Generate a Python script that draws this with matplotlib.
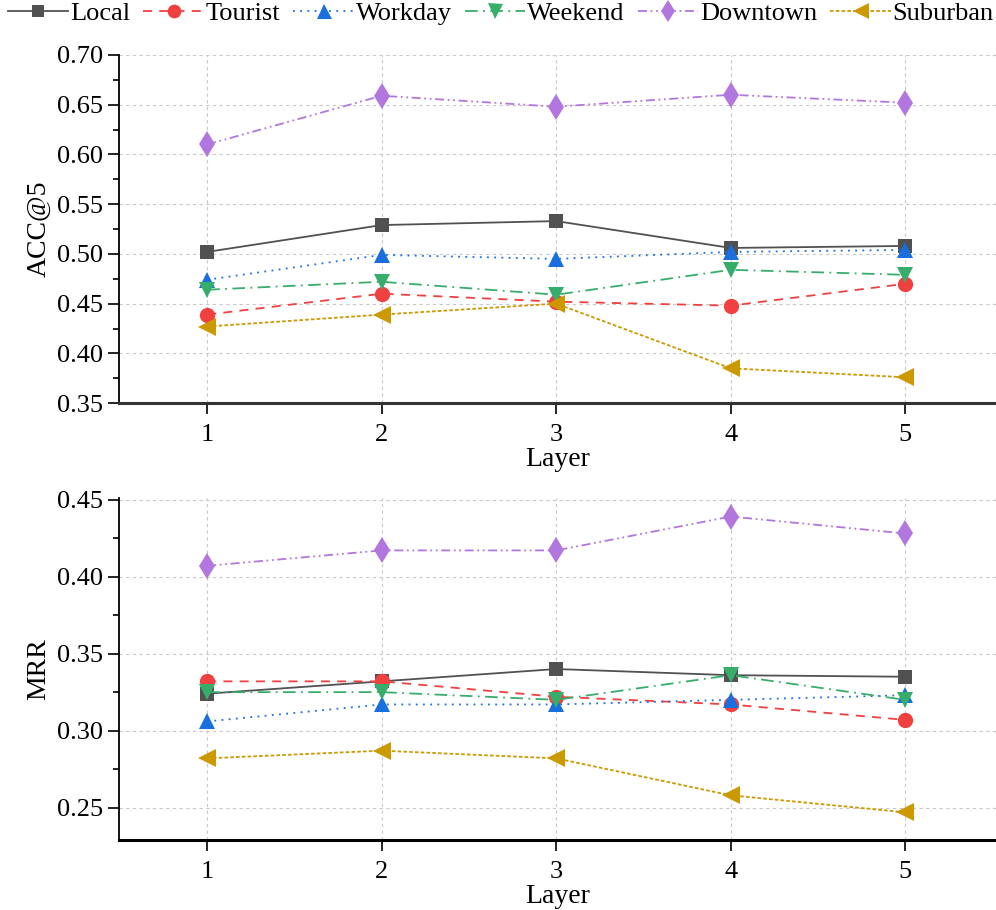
import matplotlib
matplotlib.use('Agg')
import matplotlib.pyplot as plt
from matplotlib.ticker import MultipleLocator

plt.rcParams['font.family'] = ['Liberation Serif', 'DejaVu Serif']
plt.rcParams['mathtext.fontset'] = 'stix'

# data
layers = [1, 2, 3, 4, 5]
names = ['Local', 'Tourist', 'Workday', 'Weekend', 'Downtown', 'Suburban']
acc5 = {
    'Local':    [0.502, 0.529, 0.533, 0.506, 0.508],
    'Tourist':  [0.439, 0.460, 0.452, 0.448, 0.470],
    'Workday':  [0.474, 0.499, 0.495, 0.502, 0.504],
    'Weekend':  [0.464, 0.472, 0.459, 0.484, 0.479],
    'Downtown': [0.610, 0.659, 0.648, 0.660, 0.652],
    'Suburban': [0.427, 0.439, 0.450, 0.385, 0.376],
}
mrr = {
    'Local':    [0.324, 0.332, 0.340, 0.336, 0.335],
    'Tourist':  [0.332, 0.332, 0.322, 0.317, 0.307],
    'Workday':  [0.306, 0.317, 0.317, 0.320, 0.323],
    'Weekend':  [0.325, 0.325, 0.320, 0.336, 0.320],
    'Downtown': [0.407, 0.417, 0.417, 0.439, 0.428],
    'Suburban': [0.282, 0.287, 0.282, 0.258, 0.247],
}

# styles
colors = ['#515151', '#F14040', '#1A6FDF', '#37AD6B', '#B177DE', '#CC9900']
markers = ['s', 'o', '^', 'v', 'd', '<']
sizes = [10, 11, 12, 12, 13, 13]
styles = ['-', (0, (5, 4)), (0, (1, 3)), (0, (7, 3, 1, 3)), (0, (5, 2, 1, 2, 1, 2)), (0, (2, 1.2))]

fig = plt.figure(figsize=(9.96, 9.10), dpi=100)
ax1 = fig.add_axes([0.1195, 0.557, 0.8805, 0.3826])
ax2 = fig.add_axes([0.1195, 0.0769, 0.8805, 0.3758])

def draw(ax, data, ylab, ylim, major, bcol):
    for i, n in enumerate(names):
        ax.plot(layers, data[n], color=colors[i], marker=markers[i], ms=sizes[i],
                ls=styles[i], lw=1.3, label=n, markeredgewidth=0)
    ax.set_xlim(0.495, 5.52)
    ax.set_ylim(*ylim)
    ax.set_xticks(layers)
    ax.yaxis.set_major_locator(MultipleLocator(major))
    ax.yaxis.set_minor_locator(MultipleLocator(major / 2))
    ax.grid(True, which='major', ls=(0, (3, 3)), color='#c8c8c8', lw=0.8)
    ax.set_axisbelow(True)
    for s in ['top', 'right']:
        ax.spines[s].set_visible(False)
    ax.spines['left'].set_linewidth(1.3)
    ax.spines['bottom'].set_linewidth(2.2)
    ax.spines['bottom'].set_color(bcol)
    ax.tick_params(axis='both', which='major', direction='out', length=8, width=1.2,
                   labelsize=19)
    ax.tick_params(axis='y', which='minor', direction='out', length=4, width=1.2)
    ax.tick_params(axis='x', pad=7)
    ax.set_xlabel('Layer', fontsize=20, labelpad=1)
    ax.set_ylabel(ylab, fontsize=20, labelpad=4)
    ax.yaxis.set_major_formatter(matplotlib.ticker.FormatStrFormatter('%.2f'))

draw(ax1, acc5, 'ACC@5', (0.35, 0.70), 0.05, '#333333')
draw(ax2, mrr, 'MRR', (0.229, 0.451), 0.05, 'black')

handles, labels = ax1.get_legend_handles_labels()
fig.legend(handles, labels, loc='upper left', bbox_to_anchor=(-0.003, 1.01), ncol=6,
           frameon=False, fontsize=19, handlelength=2.3, handletextpad=0.06,
           columnspacing=0.5, borderaxespad=0, markerscale=0.9)

fig.savefig('out.png', dpi=100)
